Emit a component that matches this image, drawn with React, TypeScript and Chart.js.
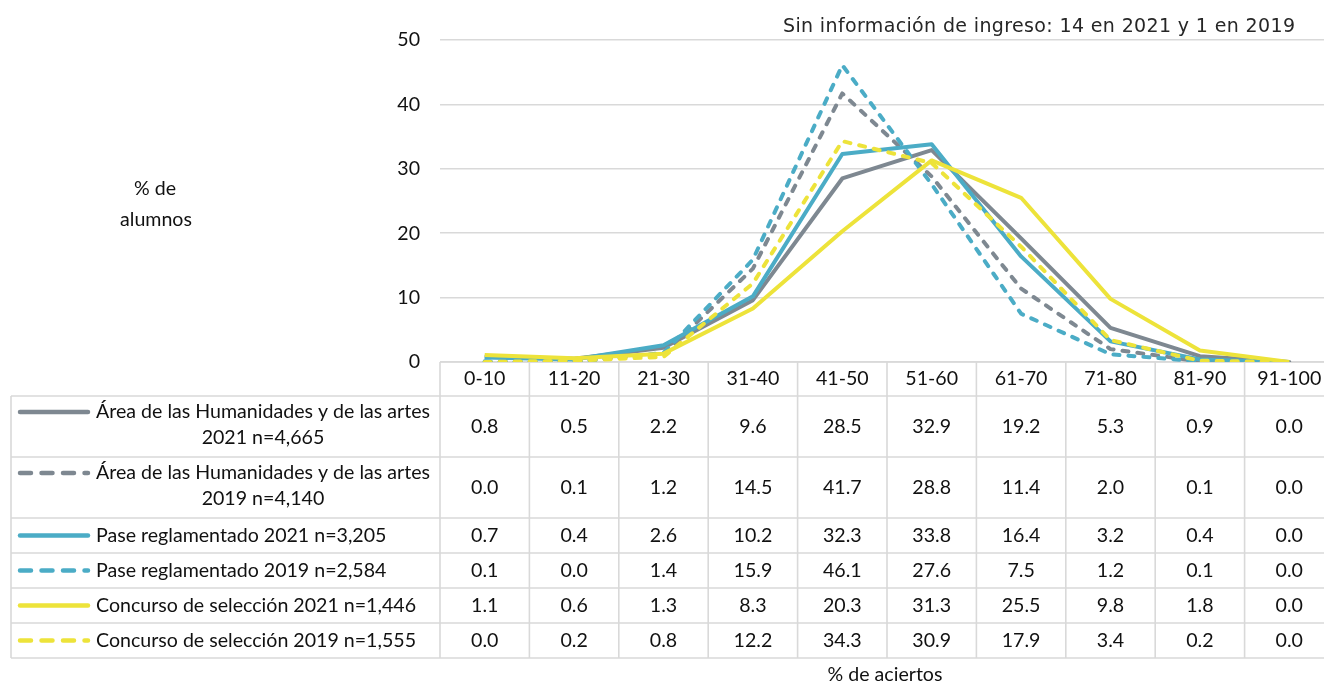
import React, { useEffect, useRef } from "react";
import { Chart, registerables } from "chart.js";

Chart.register(...registerables);

// ---------- data ----------
const categories = ["0-10", "11-20", "21-30", "31-40", "41-50", "51-60", "61-70", "71-80", "81-90", "91-100"];

const areaHumanidades2021 = [0.8, 0.5, 2.2, 9.6, 28.5, 32.9, 19.2, 5.3, 0.9, 0.0];
const areaHumanidades2019 = [0.0, 0.1, 1.2, 14.5, 41.7, 28.8, 11.4, 2.0, 0.1, 0.0];
const paseReglamentado2021 = [0.7, 0.4, 2.6, 10.2, 32.3, 33.8, 16.4, 3.2, 0.4, 0.0];
const paseReglamentado2019 = [0.1, 0.0, 1.4, 15.9, 46.1, 27.6, 7.5, 1.2, 0.1, 0.0];
const concursoSeleccion2021 = [1.1, 0.6, 1.3, 8.3, 20.3, 31.3, 25.5, 9.8, 1.8, 0.0];
const concursoSeleccion2019 = [0.0, 0.2, 0.8, 12.2, 34.3, 30.9, 17.9, 3.4, 0.2, 0.0];

const seriesLabels = [
  ["Área de las Humanidades y de las artes", "2021 n=4,665"],
  ["Área de las Humanidades y de las artes", "2019 n=4,140"],
  ["Pase reglamentado 2021 n=3,205"],
  ["Pase reglamentado 2019 n=2,584"],
  ["Concurso de selección 2021 n=1,446"],
  ["Concurso de selección 2019 n=1,555"],
];
const seriesValues = [
  areaHumanidades2021,
  areaHumanidades2019,
  paseReglamentado2021,
  paseReglamentado2019,
  concursoSeleccion2021,
  concursoSeleccion2019,
];
const seriesColors = ["#7E8891", "#7E8891", "#4BACC6", "#4BACC6", "#EDE33A", "#EDE33A"];
const seriesDashed = [false, true, false, true, false, true];

const yTickValues = [0, 10, 20, 30, 40, 50];
const titleText = "Sin información de ingreso: 14 en 2021 y 1 en 2019";
const yAxisTitle = ["% de", "alumnos"];
const xAxisTitle = "% de aciertos";

// ---------- style ----------
const FONT = "Lato, 'Noto Sans', sans-serif";
const TITLE_FONT = "'DejaVu Sans', 'Noto Sans', sans-serif";
const GRID = "#D9D9D9";
const TEXT = "#111111";
const CANVAS_W = 1340;
const CANVAS_H = 684;
const AREA_LEFT = 440;
const AREA_RIGHT = 1334;
const TABLE_LEFT = 11;
const HEADER_H = 34;
const ROW_H = [61, 61, 35, 35, 35, 35];
const FS = 19.6;

const tablePlugin = {
  id: "dataTable",
  beforeDatasetsDraw(chart: any) {
    const ctx = chart.ctx as CanvasRenderingContext2D;
    const xs = chart.scales.x;
    const top = chart.chartArea.bottom;
    const n = categories.length;
    const cw = (xs.right - xs.left) / n;
    const total = HEADER_H + ROW_H.reduce((a, b) => a + b, 0);
    const bottom = top + total;
    ctx.save();
    ctx.strokeStyle = GRID;
    ctx.lineWidth = 1.6;
    ctx.beginPath();
    ctx.moveTo(xs.left, top);
    ctx.lineTo(xs.right, top);
    let y = top + HEADER_H;
    ctx.moveTo(TABLE_LEFT, y);
    ctx.lineTo(xs.right, y);
    for (const h of ROW_H) {
      y += h;
      ctx.moveTo(TABLE_LEFT, y);
      ctx.lineTo(xs.right, y);
    }
    ctx.moveTo(TABLE_LEFT, top + HEADER_H);
    ctx.lineTo(TABLE_LEFT, bottom);
    for (let i = 0; i <= n; i++) {
      const x = xs.left + i * cw;
      ctx.moveTo(x, top);
      ctx.lineTo(x, bottom);
    }
    ctx.stroke();
    ctx.restore();
  },
  afterDraw(chart: any) {
    const ctx = chart.ctx as CanvasRenderingContext2D;
    const xs = chart.scales.x;
    const top = chart.chartArea.bottom;
    ctx.save();
    ctx.fillStyle = TEXT;
    ctx.textBaseline = "middle";
    ctx.font = `${FS}px ${FONT}`;
    ctx.textAlign = "center";
    categories.forEach((c, i) => {
      ctx.fillText(c, xs.getPixelForValue(i), top + HEADER_H / 2);
    });
    let rowTop = top + HEADER_H;
    seriesValues.forEach((vals, r) => {
      const h = ROW_H[r];
      const mid = rowTop + h / 2;
      ctx.textAlign = "center";
      ctx.fillStyle = TEXT;
      vals.forEach((v, i) => {
        ctx.fillText(v.toFixed(1), xs.getPixelForValue(i), mid);
      });
      const lines = seriesLabels[r];
      const firstY = lines.length > 1 ? rowTop + 16 : mid;
      ctx.save();
      ctx.strokeStyle = seriesColors[r];
      ctx.lineWidth = 4.5;
      ctx.lineCap = "round";
      if (seriesDashed[r]) ctx.setLineDash([11, 10.5]);
      ctx.beginPath();
      ctx.moveTo(20, firstY);
      ctx.lineTo(88, firstY);
      ctx.stroke();
      ctx.restore();
      ctx.textAlign = "left";
      ctx.fillText(lines[0], 96, firstY);
      if (lines.length > 1) {
        const w0 = ctx.measureText(lines[0]).width;
        ctx.textAlign = "center";
        ctx.fillText(lines[1], 96 + w0 / 2, rowTop + 42);
      }
      rowTop += h;
    });
    ctx.textAlign = "center";
    ctx.fillText(yAxisTitle[0], 155, 189);
    ctx.fillText(yAxisTitle[1], 156, 220);
    ctx.fillText(xAxisTitle, 885, 675);
    // top note, fitted to the reference width
    ctx.font = `19px ${TITLE_FONT}`;
    ctx.fillStyle = "#262626";
    const target = 512;
    const w = ctx.measureText(titleText).width;
    const c: any = ctx;
    if ("letterSpacing" in c) {
      c.letterSpacing = `${(target - w) / (titleText.length - 1)}px`;
    }
    ctx.textAlign = "left";
    ctx.fillText(titleText, 1295 - target, 27);
    ctx.restore();
  },
};

export default function App() {
  const canvasRef = useRef<HTMLCanvasElement | null>(null);

  useEffect(() => {
    if (!canvasRef.current) return;
    const datasets = seriesValues.map((vals, i) => ({
      label: seriesLabels[i].join(" "),
      data: vals,
      borderColor: seriesColors[i],
      backgroundColor: seriesColors[i],
      borderWidth: 4,
      borderDash: seriesDashed[i] ? [6, 9] : [],
      borderCapStyle: seriesDashed[i] ? "round" : "butt",
      borderJoinStyle: "round",
      pointRadius: 0,
      tension: 0,
      fill: false,
      order: seriesValues.length - i,
    }));
    const chart = new Chart(canvasRef.current, {
      type: "line",
      data: { labels: categories, datasets: datasets as any },
      options: {
        responsive: false,
        animation: false,
        layout: {
          padding: { top: 40, right: CANVAS_W - AREA_RIGHT, bottom: CANVAS_H - 362, left: 0 },
        },
        plugins: {
          legend: { display: false },
          tooltip: { enabled: false },
          title: { display: false },
        },
        scales: {
          x: {
            type: "category",
            display: false,
            offset: true,
          },
          y: {
            min: 0,
            max: 50,
            afterBuildTicks: (s: any) => {
              s.ticks = yTickValues.map((v) => ({ value: v }));
            },
            afterFit: (s: any) => {
              s.width = AREA_LEFT;
            },
            ticks: {
              font: { family: FONT, size: FS },
              color: TEXT,
              padding: 20,
            },
            grid: { color: GRID, lineWidth: 1.6, drawTicks: false },
            border: { display: false },
          },
        },
      },
      plugins: [tablePlugin],
    });
    return () => chart.destroy();
  }, []);

  return (
    <div
      style={{
        position: "fixed",
        left: 0,
        top: 0,
        width: 1324,
        height: 684,
        overflow: "hidden",
        background: "#fff",
      }}
    >
      <canvas ref={canvasRef} width={CANVAS_W} height={CANVAS_H} style={{ display: "block" }} />
    </div>
  );
}
